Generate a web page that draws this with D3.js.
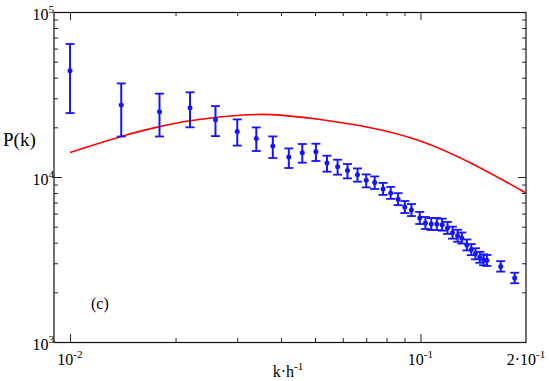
<!DOCTYPE html>
<html>
<head>
<meta charset="utf-8">
<script src="https://cdn.jsdelivr.net/npm/d3@7"></script>
<style>
  body { margin: 0; background: #fff; }
  svg text { font-family: "Liberation Serif", "DejaVu Serif", serif; font-weight: normal; }
</style>
</head>
<body>
<div id="chart"></div>
<script>
// measured points: k, P(k) and error bar ends
const kData = [0.0100, 0.0140, 0.0180, 0.0220, 0.0260, 0.0300, 0.0340, 0.0379, 0.0421, 0.0460,
  0.0503, 0.0541, 0.0580, 0.0619, 0.0661, 0.0700, 0.0740, 0.0782, 0.0822, 0.0863,
  0.0902, 0.0942, 0.0995, 0.1033, 0.1073, 0.1113, 0.1153, 0.1194, 0.1234, 0.1276,
  0.1312, 0.1356, 0.1396, 0.1435, 0.1477, 0.1514, 0.1547, 0.1694, 0.1857];
const pData = [44000, 27300, 24900, 26300, 22250, 18900, 17130, 15420, 13220, 14040,
  14230, 12160, 11540, 10960, 10330, 9540, 9275, 8470, 8010, 7340,
  6580, 6310, 5645, 5260, 5190, 5190, 5140, 4910, 4600, 4406,
  4270, 3873, 3626, 3428, 3258, 3152, 3122, 2871, 2443];
const pLow = [24400, 17600, 17600, 20000, 17700, 15500, 14370, 13030, 11340, 12210,
  12500, 10770, 10330, 9810, 9365, 8650, 8460, 7790, 7370, 6750,
  6050, 5800, 5190, 4840, 4770, 4770, 4730, 4520, 4230, 4050,
  3950, 3590, 3360, 3170, 3020, 2920, 2890, 2670, 2270];
const pHigh = [64000, 36900, 32000, 32600, 26900, 22340, 19980, 17620, 14900, 15850,
  15910, 13460, 12730, 11990, 11270, 10370, 10080, 9210, 8710, 7980,
  7150, 6860, 6140, 5720, 5640, 5640, 5590, 5340, 5000, 4790,
  4610, 4180, 3920, 3700, 3520, 3400, 3370, 3090, 2630];

// model curve
const kModel = [0.0100, 0.0140, 0.0180, 0.0220, 0.0287, 0.0373, 0.0518, 0.0720, 0.1000, 0.1436, 0.2000];
const pModel = [14090, 17620, 20190, 21930, 23440, 23890, 22300, 19900, 16500, 11750, 8000];

// axis ticks
const xMajor = [0.01, 0.1, 0.2];
const xMajorLabels = [["10", "-2"], ["10", "-1"], ["2·10", "-1"]];
const xMinor = [0.02, 0.03, 0.04, 0.05, 0.06, 0.07, 0.08, 0.09];
const yMajor = [1e3, 1e4, 1e5];
const yMajorLabels = [["10", "3"], ["10", "4"], ["10", "5"]];
const yMinor = [2e3, 3e3, 4e3, 5e3, 6e3, 7e3, 8e3, 9e3, 2e4, 3e4, 4e4, 5e4, 6e4, 7e4, 8e4, 9e4];

const W = 549, H = 381;
const plotL = 54, plotR = 526, plotT = 12, plotB = 342;

const svg = d3.select("#chart")
  .append("svg")
    .attr("width", W)
    .attr("height", H);

const x = d3.scaleLog().domain([0.009, 0.2]).range([plotL, plotR]);
const y = d3.scaleLog().domain([1e3, 1e5]).range([plotB, plotT]);

// ticks, all pointing inward
function tickAxis(axis, vals, size, transform) {
  const g = svg.append("g")
    .attr("transform", transform)
    .call(axis.tickValues(vals).tickSize(size).tickSizeOuter(0).tickFormat(""));
  g.select(".domain").remove();
  g.selectAll("line").attr("stroke", "#222");
  return g;
}
tickAxis(d3.axisBottom(x), xMajor.slice(0, 2), -8, `translate(0,${plotB})`);
tickAxis(d3.axisBottom(x), xMinor, -4, `translate(0,${plotB})`);
tickAxis(d3.axisTop(x), xMajor.slice(0, 2), -8, `translate(0,${plotT})`);
tickAxis(d3.axisTop(x), xMinor, -4, `translate(0,${plotT})`);
tickAxis(d3.axisLeft(y), yMajor, -8, `translate(${plotL},0)`);
tickAxis(d3.axisLeft(y), yMinor, -4, `translate(${plotL},0)`);
tickAxis(d3.axisRight(y), yMajor, -8, `translate(${plotR},0)`);
tickAxis(d3.axisRight(y), yMinor, -4, `translate(${plotR},0)`);

// frame
svg.append("rect")
  .attr("x", plotL).attr("y", plotT + 0.5)
  .attr("width", plotR - plotL).attr("height", plotB - plotT)
  .attr("fill", "none")
  .attr("stroke", "#111")
  .attr("stroke-width", 1.2);

// text with optional superscript
function label(px, py, base, sup, anchor, size) {
  const t = svg.append("text")
    .attr("x", px)
    .attr("y", py)
    .attr("text-anchor", anchor)
    .style("font-size", size + "px")
    .style("fill", "#000");
  t.append("tspan").text(base);
  if (sup) {
    t.append("tspan")
      .attr("dy", -size * 0.45)
      .style("font-size", (size * 0.7) + "px")
      .text(sup);
  }
}

xMajor.forEach((v, i) => label(x(v), 365, xMajorLabels[i][0], xMajorLabels[i][1], "middle", 16));
yMajor.forEach((v, i) => label(54, y(v) + 8, yMajorLabels[i][0], yMajorLabels[i][1], "end", 16));

label(288, 377, "k·h", "-1", "middle", 16);
label(3, 146, "P(k)", null, "start", 19);
label(91, 309, "(c)", null, "start", 16);

// model curve
const model = kModel.map((k, i) => [k, pModel[i]]);
svg.append("path")
  .datum(model)
  .attr("fill", "none")
  .attr("stroke", "#ff0000")
  .attr("stroke-width", 1.6)
  .attr("d", d3.line()
    .x(d => x(d[0]))
    .y(d => y(d[1]))
    .curve(d3.curveNatural));

// error bars
const pts = kData.map((k, i) => ({k: k, p: pData[i], lo: pLow[i], hi: pHigh[i]}));
const blue = "#1414ff";

svg.selectAll("errbar")
  .data(pts)
  .enter()
  .append("line")
    .attr("x1", d => x(d.k))
    .attr("x2", d => x(d.k))
    .attr("y1", d => y(d.lo))
    .attr("y2", d => y(d.hi))
    .attr("stroke", blue)
    .attr("stroke-width", 2);

["lo", "hi"].forEach(key => {
  svg.selectAll("cap" + key)
    .data(pts)
    .enter()
    .append("line")
      .attr("x1", d => x(d.k) - 4.5)
      .attr("x2", d => x(d.k) + 4.5)
      .attr("y1", d => y(d[key]))
      .attr("y2", d => y(d[key]))
      .attr("stroke", blue)
      .attr("stroke-width", 1.8);
});

svg.selectAll("dot")
  .data(pts)
  .enter()
  .append("circle")
    .attr("cx", d => x(d.k))
    .attr("cy", d => y(d.p))
    .attr("r", 2.5)
    .style("fill", blue);
</script>
</body>
</html>
